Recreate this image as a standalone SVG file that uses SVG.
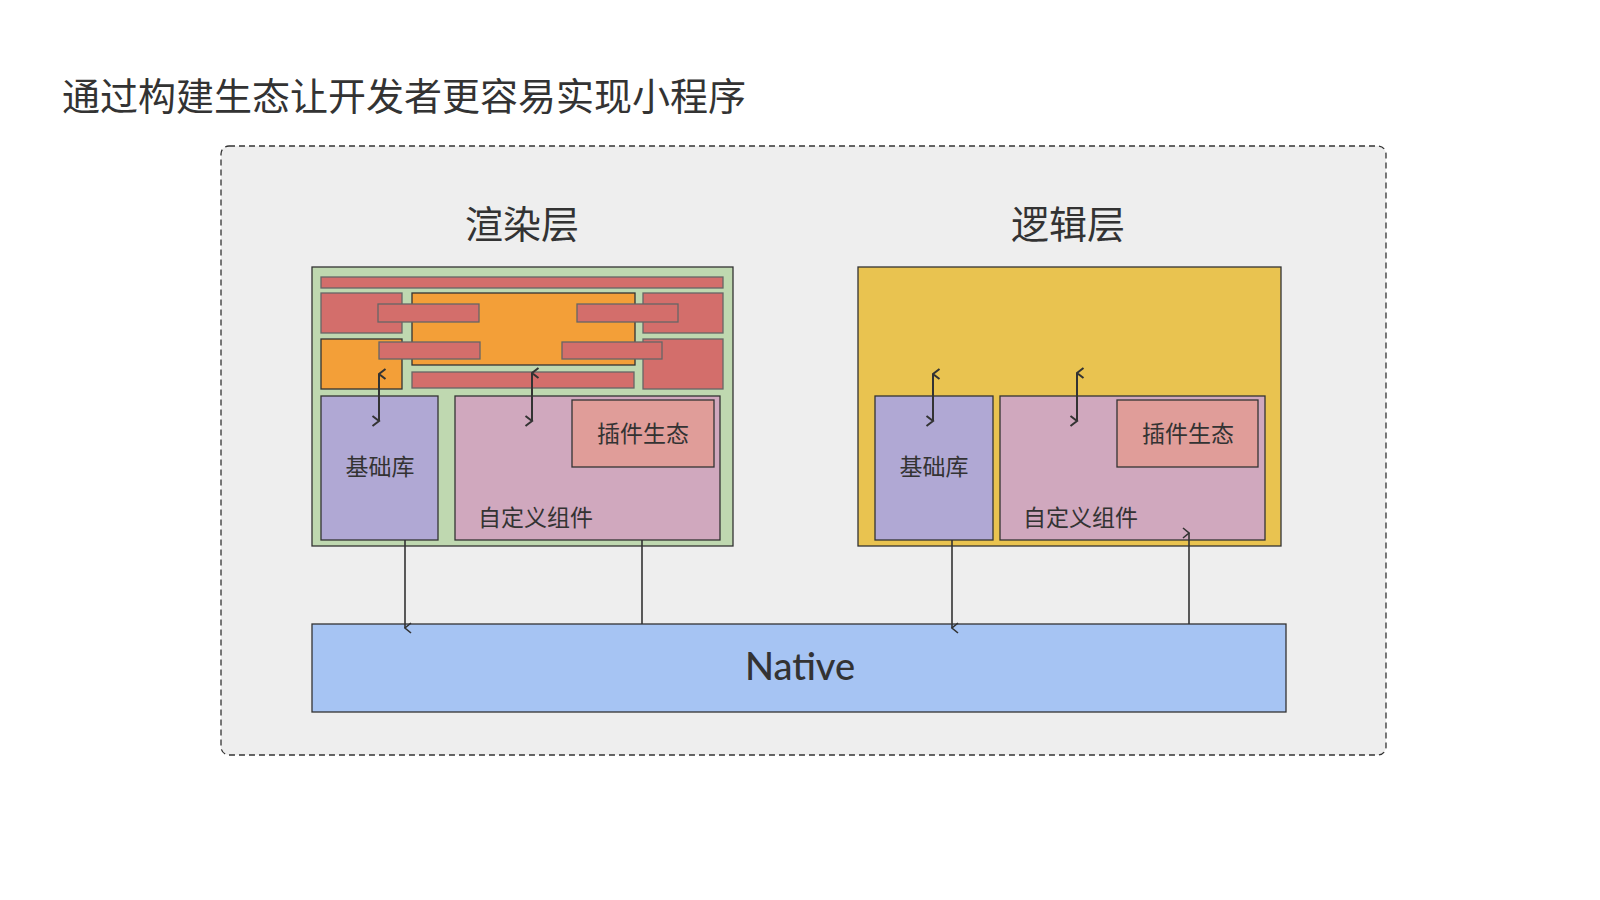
<svg xmlns="http://www.w3.org/2000/svg" width="1600" height="900" viewBox="0 0 1600 900">
<style>
.cjk{font-family:"Liberation Sans","Noto Sans CJK SC",sans-serif;fill:#333}
.b{stroke:#333;stroke-width:1.3}
.r{fill:#d36e6b;stroke:#666;stroke-width:1.3}
.o{fill:#f39f38;stroke:#333;stroke-width:1.3}
.c{stroke:#333;stroke-width:2;fill:none}
</style>
<defs>
<marker id="ah" viewBox="0 0 12 12" refX="6" refY="1.5" markerWidth="12" markerHeight="12" markerUnits="userSpaceOnUse" orient="auto-start-reverse">
<path d="M1,8 L6,1.5 L11,8" fill="none" stroke="#333" stroke-width="2"/>
</marker>
<marker id="ahs" viewBox="0 0 12 12" refX="6" refY="11" markerWidth="12" markerHeight="12" markerUnits="userSpaceOnUse" orient="auto">
<path d="M1,5 L6,11 L11,5" fill="none" stroke="#333" stroke-width="1.6"/>
</marker>
</defs>
<rect width="1600" height="900" fill="#fff"/>
<text class="cjk" x="62" y="110" font-size="38">通过构建生态让开发者更容易实现小程序</text>
<g id="container"><rect x="221" y="146" width="1165" height="609" rx="8" fill="#eeeeee" stroke="#333" stroke-width="1.3" stroke-dasharray="6,4"/></g>
<text class="cjk" x="522" y="238" font-size="38" text-anchor="middle">渲染层</text>
<text class="cjk" x="1068" y="238" font-size="38" text-anchor="middle">逻辑层</text>
<g id="render">
<rect x="312" y="267" width="421" height="279" fill="#bfd8b0" class="b"/>
<rect x="321" y="277" width="402" height="11" class="r"/>
<rect x="321" y="293" width="81" height="40" class="r"/>
<rect x="643" y="293" width="80" height="40" class="r"/>
<rect x="643" y="339" width="80" height="50" class="r"/>
<rect x="412" y="293" width="223" height="72" class="o"/>
<rect x="321" y="339" width="81" height="50" class="o"/>
<rect x="378" y="304" width="101" height="18" class="r"/>
<rect x="577" y="304" width="101" height="18" class="r"/>
<rect x="379" y="342" width="101" height="17" class="r"/>
<rect x="562" y="342" width="100" height="17" class="r"/>
<rect x="412" y="372" width="222" height="16" class="r"/>
</g>
<g id="render-base"><rect x="321" y="396" width="117" height="144" fill="#b0a8d4" class="b"/><text class="cjk" x="380" y="475" font-size="23" text-anchor="middle">基础库</text></g>
<g id="render-comp"><rect x="455" y="396" width="265" height="144" fill="#d0a8be" class="b"/><text class="cjk" x="478" y="526" font-size="23">自定义组件</text></g>
<g id="render-plugin"><rect x="572" y="400" width="142" height="67" fill="#e09d99" class="b"/><text class="cjk" x="643" y="442" font-size="23" text-anchor="middle">插件生态</text></g>
<g id="logic"><rect x="858" y="267" width="423" height="279" fill="#e9c350" class="b"/></g>
<g id="logic-base"><rect x="875" y="396" width="118" height="144" fill="#b0a8d4" class="b"/><text class="cjk" x="934" y="475" font-size="23" text-anchor="middle">基础库</text></g>
<g id="logic-comp"><rect x="1000" y="396" width="265" height="144" fill="#d0a8be" class="b"/><text class="cjk" x="1023" y="526" font-size="23">自定义组件</text></g>
<g id="logic-plugin"><rect x="1117" y="400" width="141" height="67" fill="#e09d99" class="b"/><text class="cjk" x="1188" y="442" font-size="23" text-anchor="middle">插件生态</text></g>
<g id="native"><rect x="312" y="624" width="974" height="88" fill="#a6c4f3" class="b"/><text x="800" y="680" font-family="Lato,'Open Sans',sans-serif" font-size="38" font-weight="500" fill="#333" text-anchor="middle">Native</text></g>
<g id="connectors">
<line class="c" x1="379" y1="374" x2="379" y2="421" marker-start="url(#ah)" marker-end="url(#ah)"/>
<line class="c" x1="532" y1="373" x2="532" y2="421" marker-start="url(#ah)" marker-end="url(#ah)"/>
<line class="c" x1="933" y1="374" x2="933" y2="421" marker-start="url(#ah)" marker-end="url(#ah)"/>
<line class="c" x1="1077" y1="373" x2="1077" y2="421" marker-start="url(#ah)" marker-end="url(#ah)"/>
<line x1="405" y1="540" x2="405" y2="628" stroke="#333" stroke-width="1.6" marker-end="url(#ahs)"/>
<line x1="642" y1="624" x2="642" y2="540" stroke="#333" stroke-width="1.6"/>
<line x1="952" y1="540" x2="952" y2="628" stroke="#333" stroke-width="1.6" marker-end="url(#ahs)"/>
<line x1="1189" y1="624" x2="1189" y2="533" stroke="#333" stroke-width="1.6" marker-end="url(#ahs)"/>
</g>
</svg>
